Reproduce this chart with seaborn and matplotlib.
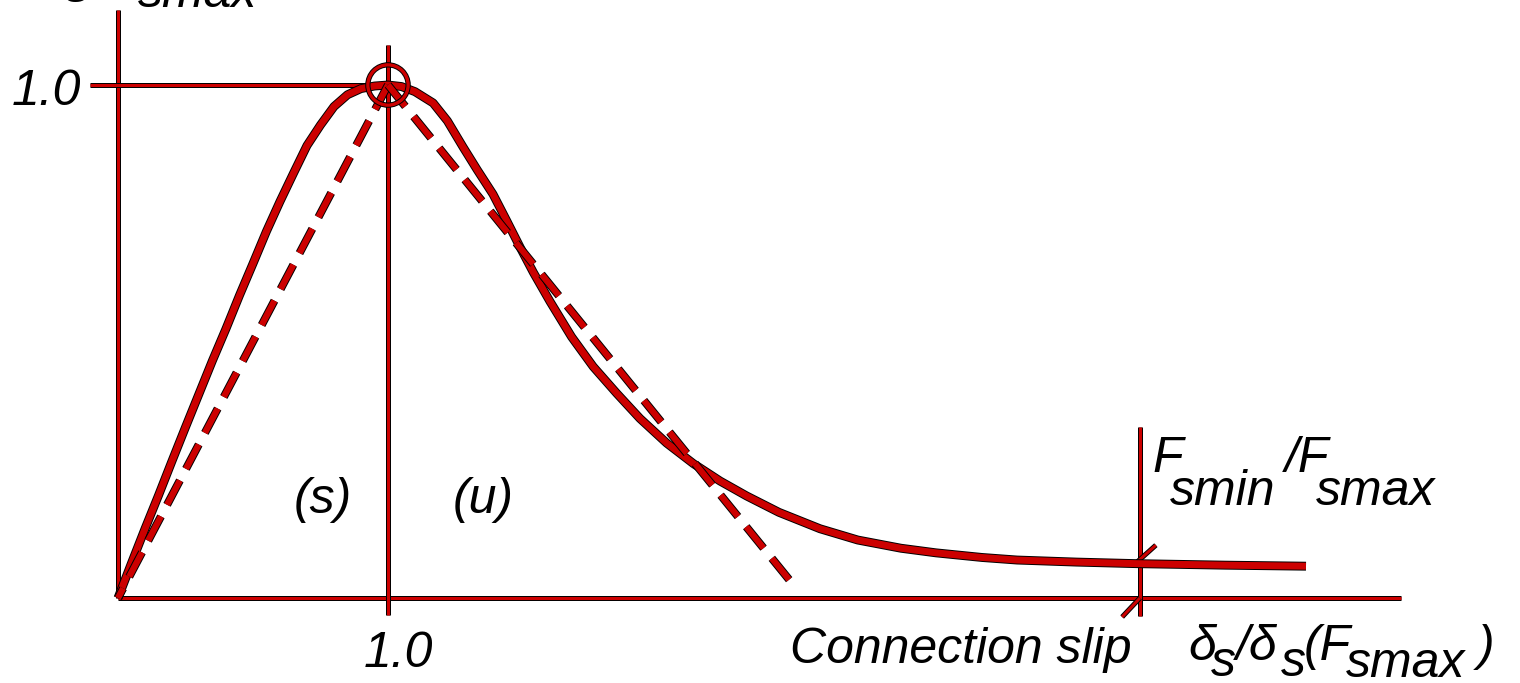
import matplotlib
matplotlib.use("Agg")
import matplotlib.pyplot as plt
import matplotlib.patheffects as pe
import seaborn as sns
import pandas as pd

sns.set_theme(style="white")
plt.rcParams["font.family"] = ["Liberation Sans", "DejaVu Sans"]

# normalised slip vs normalised connection force
slip = [0.0, 0.05, 0.1, 0.15, 0.2, 0.25, 0.3, 0.35, 0.4, 0.45, 0.5, 0.55, 0.6,
        0.65, 0.7, 0.75, 0.8, 0.85, 0.9, 0.95, 1.0, 1.05, 1.1, 1.167, 1.22,
        1.278, 1.33, 1.389, 1.44, 1.49, 1.538, 1.6, 1.68, 1.76, 1.847, 1.933,
        2.032, 2.131, 2.23, 2.328, 2.448, 2.6, 2.74, 2.9, 3.03, 3.2, 3.33,
        3.55, 3.77, 4.1, 4.40]
force = [0.0, 0.068, 0.135, 0.20, 0.267, 0.333, 0.398, 0.463, 0.525, 0.59, 0.652,
         0.715, 0.773, 0.828, 0.882, 0.922, 0.958, 0.981, 0.993, 0.998, 1.0, 0.997,
         0.987, 0.965, 0.93, 0.879, 0.835, 0.787, 0.735, 0.683, 0.635, 0.578,
         0.509, 0.451, 0.399, 0.35, 0.302, 0.262, 0.228, 0.199, 0.167, 0.135,
         0.113, 0.097, 0.088, 0.079, 0.074, 0.07, 0.067, 0.064, 0.062]

# secant (s) and unloading (u) lines, both starting at the peak
secant_x = [1.0, 0.0]
secant_y = [1.0, 0.0]
unload_x = [1.0, 2.51]
unload_y = [1.0, 0.02]

peak_x, peak_y = 1.0, 1.0
slip_lim = 3.785        # where Fsmin is reached

x_axis_end = 4.75
y_axis_top = 1.146

RED = "#cc0000"

df = pd.DataFrame({"slip": slip, "force": force})

fig = plt.figure(figsize=(15.2, 6.83), dpi=100)
ax = fig.add_axes([0, 0, 1, 1])
ax.set_xlim(-118 / 270, (1520 - 118) / 270)
ax.set_ylim(-(683 - 598) / 513, 598 / 513)
ax.axis("off")


def outline(w):
    return [pe.Stroke(linewidth=w + 1.4, foreground="black"), pe.Normal()]


def px(x, y):
    return (x - 118) / 270, (598 - y) / 513


thin = dict(color=RED, lw=2.2, solid_capstyle="butt", path_effects=outline(2.2))

# axes and reference lines
ax.plot([0, 0], [0, y_axis_top], **thin)
ax.plot([0, x_axis_end], [0, 0], **thin)
ax.plot([px(90, 0)[0], peak_x], [peak_y, peak_y], **thin)
ax.plot([peak_x, peak_x], [-0.033, 1.078], **thin)
ax.plot([slip_lim, slip_lim], [-0.035, 0.333], **thin)
ax.plot([3.774, 3.844], [0.070, 0.103], **thin)
ax.plot([3.719, 3.785], [-0.037, 0.0], **thin)

# main curve
sns.lineplot(data=df, x="slip", y="force", ax=ax, sort=False, estimator=None,
             color=RED, lw=5, solid_capstyle="butt", solid_joinstyle="round",
             path_effects=outline(5))

# dashed lines
for xs, ys in [(secant_x, secant_y), (unload_x, unload_y)]:
    sns.lineplot(x=xs, y=ys, ax=ax, sort=False, estimator=None, color=RED, lw=4.5,
                 linestyle=(0, (4.4, 2.1)), dash_capstyle="butt",
                 path_effects=outline(4.5))

# circle at the peak
ax.plot([peak_x], [peak_y], marker="o", ms=29, mfc="none", mec=RED, mew=2.4,
        path_effects=outline(2.4))

fs = 36
tk = dict(fontsize=fs, style="italic", color="black")

ax.text(*px(46, 105), "1.0", ha="center", va="baseline", **tk)
ax.text(*px(398, 667), "1.0", ha="center", va="baseline", **tk)
ax.text(*px(323, 513), "(s)", ha="center", va="baseline", **tk)
ax.text(*px(483, 513), "(u)", ha="center", va="baseline", **tk)
ax.text(*px(790, 663), "Connection slip", ha="left", va="baseline", **tk)

# F_smin / F_smax
ax.text(*px(1152, 472), "F", ha="left", va="baseline", **tk)
ax.text(*px(1170, 505), "smin", ha="left", va="baseline", **tk)
ax.text(*px(1285, 472), "/F", ha="left", va="baseline", **tk)
ax.text(*px(1316, 505), "smax", ha="left", va="baseline", **tk)

# delta_s / delta_s(F_smax)
ax.text(*px(1188, 660), "\u03b4", ha="left", va="baseline", **tk)
ax.text(*px(1211, 676), "s", ha="left", va="baseline", **tk)
ax.text(*px(1236, 660), "/\u03b4", ha="left", va="baseline", **tk)
ax.text(*px(1281, 676), "s", ha="left", va="baseline", **tk)
ax.text(*px(1304, 660), "(F", ha="left", va="baseline", **tk)
ax.text(*px(1346, 677), "smax", ha="left", va="baseline", **tk)
ax.text(*px(1478, 660), ")", ha="left", va="baseline", **tk)

# y label, clipped by the top edge
ax.text(*px(40, -25), "F", ha="left", va="baseline", **tk)
ax.text(*px(65, 2), "s", ha="left", va="baseline", **tk)
ax.text(*px(88, -25), "/F", ha="left", va="baseline", **tk)
ax.text(*px(138, 7), "smax", ha="left", va="baseline", **tk)

fig.savefig("out.png", dpi=100, facecolor="white")
